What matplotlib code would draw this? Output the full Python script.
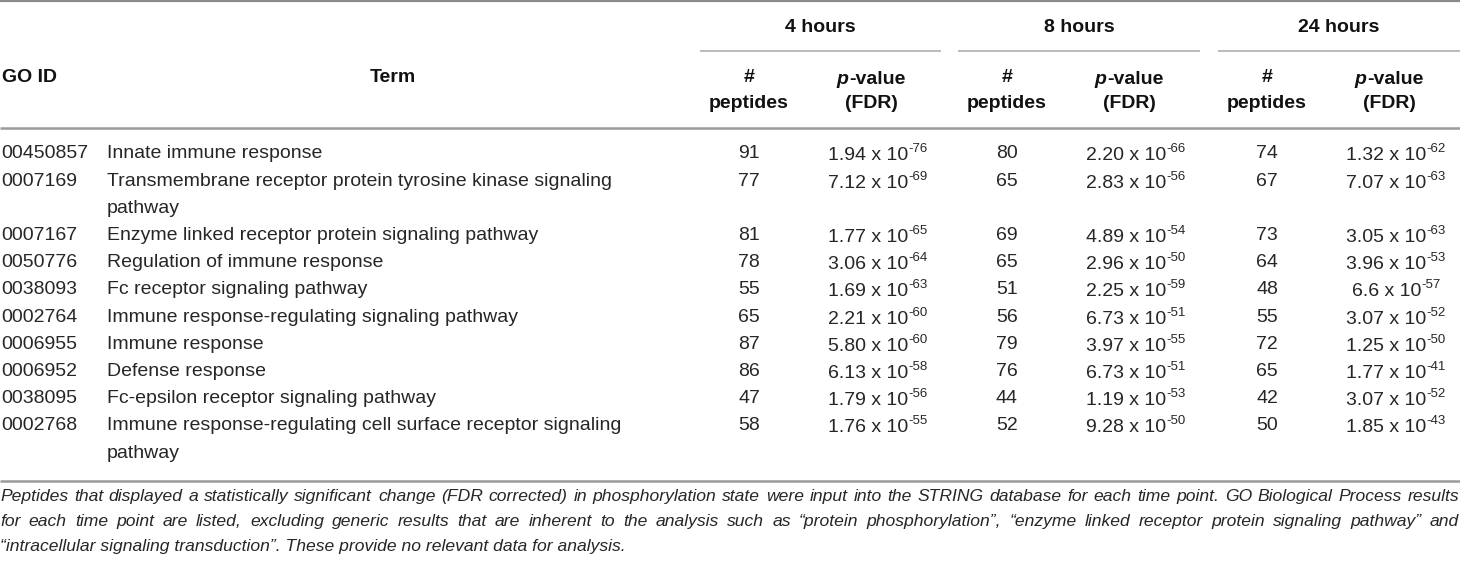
import matplotlib
matplotlib.use("Agg")
import matplotlib.pyplot as plt
from matplotlib import font_manager as fm

# ---------------- data ----------------
go_ids = ["00450857", "0007169", "0007167", "0050776", "0038093",
          "0002764", "0006955", "0006952", "0038095", "0002768"]
terms = [
    "Innate immune response",
    "Transmembrane receptor protein tyrosine kinase signaling\npathway",
    "Enzyme linked receptor protein signaling pathway",
    "Regulation of immune response",
    "Fc receptor signaling pathway",
    "Immune response-regulating signaling pathway",
    "Immune response",
    "Defense response",
    "Fc-epsilon receptor signaling pathway",
    "Immune response-regulating cell surface receptor signaling\npathway",
]
time_points = ["4 hours", "8 hours", "24 hours"]
peptides_4h = [91, 77, 81, 78, 55, 65, 87, 86, 47, 58]
peptides_8h = [80, 65, 69, 65, 51, 56, 79, 76, 44, 52]
peptides_24h = [74, 67, 73, 64, 48, 55, 72, 65, 42, 50]
mant_4h = ["1.94", "7.12", "1.77", "3.06", "1.69", "2.21", "5.80", "6.13", "1.79", "1.76"]
exp_4h = [-76, -69, -65, -64, -63, -60, -60, -58, -56, -55]
mant_8h = ["2.20", "2.83", "4.89", "2.96", "2.25", "6.73", "3.97", "6.73", "1.19", "9.28"]
exp_8h = [-66, -56, -54, -50, -59, -51, -55, -51, -53, -50]
mant_24h = ["1.32", "7.07", "3.05", "3.96", "6.6", "3.07", "1.25", "1.77", "3.07", "1.85"]
exp_24h = [-62, -63, -63, -53, -57, -52, -50, -41, -52, -43]
footnote_lines = [
    "Peptides that displayed a statistically significant change (FDR corrected) in phosphorylation state were input into the STRING database for each time point. GO Biological Process results",
    "for each time point are listed, excluding generic results that are inherent to the analysis such as \u201cprotein phosphorylation\u201d, \u201cenzyme linked receptor protein signaling pathway\u201d and",
    "\u201cintracellular signaling transduction\u201d. These provide no relevant data for analysis.",
]

# ---------------- layout ----------------
W, H = 1460, 562
fig = plt.figure(figsize=(W / 100, H / 100), dpi=100)
ax = fig.add_axes([0, 0, 1, 1])
ax.set_xlim(0, W)
ax.set_ylim(H, 0)
ax.axis("off")
renderer = fig.canvas.get_renderer()

BODY = dict(family=["Liberation Sans", "DejaVu Sans"], fontsize=14, color="#262626")
BOLD = dict(family=["Liberation Sans", "DejaVu Sans"], fontsize=14, fontweight="bold", color="#111111")


def has_font(name):
    try:
        fm.findfont(fm.FontProperties(family=name), fallback_to_default=False)
        return True
    except Exception:
        return False


if has_font("Liberation Sans Narrow"):
    FOOT = dict(family=["Liberation Sans Narrow", "Liberation Sans"], fontsize=14,
                style="italic", color="#262626")
else:
    FOOT = dict(family=["Liberation Sans", "DejaVu Sans"], fontsize=12.6,
                style="italic", color="#262626")


def width_of(t):
    return t.get_window_extent(renderer).width


def composed(x, yc, segs, ha="left"):
    """segs: list of (text, props, baseline offset in px)."""
    base = yc + 6.5
    arts, ws = [], []
    for txt, props, dy in segs:
        t = ax.text(0, base + dy, txt, va="baseline", ha="left", **props)
        arts.append(t)
        ws.append(width_of(t))
    x0 = x - sum(ws) / 2 if ha == "center" else x
    for t, w in zip(arts, ws):
        t.set_x(x0)
        x0 += w


# rules
ax.plot([0, W], [1, 1], color="#8a8a8a", lw=1.6, solid_capstyle="butt")
blocks = [(700, 941), (958, 1200), (1218, 1460)]
for (a, b) in blocks:
    ax.plot([a, b], [51, 51], color="#a8a8a8", lw=1.1, solid_capstyle="butt")
ax.plot([0, W], [128, 128], color="#9a9a9a", lw=1.8, solid_capstyle="butt")
ax.plot([0, W], [481, 481], color="#9a9a9a", lw=1.8, solid_capstyle="butt")

# header
ax.text(2, 77, "GO ID", va="center", ha="left", **BOLD)
ax.text(370, 77, "Term", va="center", ha="left", **BOLD)
pep_off, ph_off, pd_off = 49, 171, 178
for (a, b), tp in zip(blocks, time_points):
    ax.text((a + b) / 2, 27, tp, va="center", ha="center", **BOLD)
    ax.text(a + pep_off, 77, "#", va="center", ha="center", **BOLD)
    ax.text(a + pep_off, 104, "peptides", va="center", ha="center", **BOLD)
    composed(a + ph_off, 77, [("p", dict(BOLD, style="italic"), 0), ("-value", BOLD, 0)], ha="center")
    ax.text(a + ph_off, 104, "(FDR)", va="center", ha="center", **BOLD)

# body
peps = [peptides_4h, peptides_8h, peptides_24h]
mants = [mant_4h, mant_8h, mant_24h]
exps = [exp_4h, exp_8h, exp_24h]
y0, dy = 154, 27.2
SUP = dict(BODY, fontsize=9.5)
line = 0
for i in range(len(go_ids)):
    yc = y0 + dy * line
    ax.text(1, yc, go_ids[i], va="center", ha="left", **BODY)
    term_lines = terms[i].split("\n")
    for k, tl in enumerate(term_lines):
        ax.text(107, yc + dy * k, tl, va="center", ha="left", **BODY)
    for (a, b), pp, mm, ee in zip(blocks, peps, mants, exps):
        ax.text(a + pep_off, yc, str(pp[i]), va="center", ha="center", **BODY)
        composed(a + pd_off, yc, [(f"{mm[i]} x 10", BODY, 0), (f"-{abs(ee[i])}", SUP, -8)], ha="center")
    line += len(term_lines)

# footnote (baselines)
foot_base = [501, 526, 551]
for j, (txt, yb) in enumerate(zip(footnote_lines, foot_base)):
    if j < 2:
        words = txt.split(" ")
        arts = [ax.text(0, yb, w, va="baseline", ha="left", **FOOT) for w in words]
        ws = [width_of(t) for t in arts]
        gap = (W - 1 - sum(ws)) / (len(words) - 1)
        x = 0
        for t, w in zip(arts, ws):
            t.set_x(x)
            x += w + gap
    else:
        ax.text(0, yb, txt, va="baseline", ha="left", **FOOT)

fig.savefig("out.png", dpi=100)
